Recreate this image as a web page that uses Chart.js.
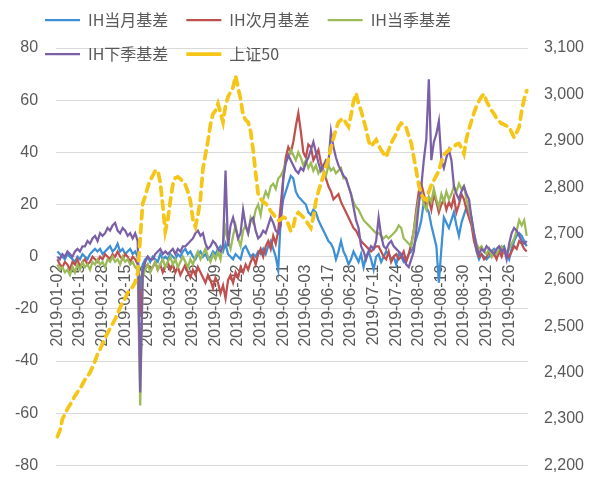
<!DOCTYPE html>
<html>
<head>
<meta charset="utf-8">
<script src="https://cdn.jsdelivr.net/npm/chart.js@4.4.0/dist/chart.umd.min.js"></script>
<style>
  html, body { margin: 0; padding: 0; background: #fff; overflow: hidden; width: 591px; height: 479px; }
  #wrap { width: 603px; height: 493px; margin-left: -3px; }
</style>
</head>
<body>
<div id="wrap"><canvas id="basis"></canvas></div>
<script>
// trading days of 2019, by month (Jan..Oct)
const monthDays = [
  [2,3,4,7,8,9,10,11,14,15,16,17,18,21,22,23,24,25,28,29,30,31],
  [1,11,12,13,14,15,18,19,20,21,22,25,26,27,28],
  [1,4,5,6,7,8,11,12,13,14,15,18,19,20,21,22,25,26,27,28,29],
  [1,2,3,4,8,9,10,11,12,15,16,17,18,19,22,23,24,25,26,29,30],
  [6,7,8,9,10,13,14,15,16,17,20,21,22,23,24,27,28,29,30,31],
  [3,4,5,6,10,11,12,13,14,17,18,19,20,21,24,25,26,27,28],
  [1,2,3,4,5,8,9,10,11,12,15,16,17,18,19,22,23,24,25,26,29,30,31],
  [1,2,5,6,7,8,9,12,13,14,15,16,19,20,21,22,23,26,27,28,29,30],
  [2,3,4,5,6,9,10,11,12,16,17,18,19,20,23,24,25,26,27,30],
  [8,9,10,11,14]
];
const pad = n => String(n).padStart(2, '0');
const dates = [];
monthDays.forEach((days, m) => days.forEach(d => dates.push('2019-' + pad(m + 1) + '-' + pad(d))));

const ihMonth = [
  2,1,0,-1,1,0,-1,-2,0,-1, 1,0,-1,1,2,3,2,3,1,2, 3,4,2,3,5,2,3,1,2,3, 1,2,0,
  -14,
  -3,-1,0,-2,0,-1,-2,1,-1,0, -1,1,0,-1,1,0,2,3,1,2, 0,-1,1,2,0,1,-1,0,2,1,
  3,4,2,5,1,0,-1,1,0,-1, 3,4,2,0,1,0,2,1,3,1, 4,6,3,0,-5,
  15,22,25,28,31,30,25,23,22,21, 20,17,16,18,17,14,12,10,8,6, 5,3,-1,2,
  6,2,0,-3,-1,2,0,-2,1,-4, 0,2,-1,-5,0,1,-2,0,2,1, -1,0,-3,1,0,-2,-1,
  1,2,4,7,10,14,21,19,17,12, 8,4,-10,3,15,13,11,14,17,12, 8,13,16,19,17,15,7,2,-1,1,
  0,-1,0,2,3,1,2,3,4,1, -1,3,6,8,9,8,6,4
];
const ihNext = [
  -1,-3,-4,-2,-3,-5,-2,-3,-1,-4, -2,-1,-3,-2,0,-1,-2,0,-1,1, 0,-1,1,0,2,0,-1,1,0,-2, 0,-1,-3,
  -22,
  -6,-4,-3,-5,-4,-2,-5,-3,-6,-4, -2,-5,-3,-6,-4,-7,-5,-3,-6,-8, -5,-7,-4,-6,-8,-10,-7,-9,-12,-8,
  -10,-14,-11,-16,-9,-7,-10,-6,-8,-4, -6,-3,-5,-2,0,-3,1,3,0,4, 6,3,8,5,10,
  20,30,38,42,40,44,50,55,
  48,40,38,43,42,37,39,41,36,33, 30,27,25,22,23,24,21,19,17,15, 13,11,10,8,6,5,4,3,2,3, 4,4,2,0,
  -1,2,-2,0,1,-1,0,2,-2,1, 5,10,18,25,28,24,20,22,18,24, 21,17,20,22,18,21,19,23,17,20,
  24,22,18,15,12,6,3,0,1,-1, 0,2,0,1,-1,2,0,3,1,0, 2,4,3,6,5,3,2
];
const ihQuarter = [
  -3,-5,-4,-6,-5,-7,-4,-6,-3,-5, -2,-4,-3,-5,-2,-3,-1,-3,-2,-4, -1,-2,0,-2,-1,-3,0,-2,-1,-3, -2,-4,-5,
  -57,
  -8,-5,-3,-6,-4,-2,-5,-3,-1,-4, -2,0,-3,-1,-4,-2,0,-2,-4,-1, -3,0,2,-1,1,3,0,-2,1,-1,
  2,-1,5,11,6,3,8,12,7,4, 10,12,9,15,13,18,20,16,22,25, 23,27,28,26,30,
  31,33,36,38,41,39,37,40,38,35, 37,34,36,33,35,32,34,33,31,35, 33,34,32,33,34,30,
  30,27,24,21,19,18,16,14,13,12, 11,10,9,9,8,7,8,7,8,9, 10,12,11,7,6,5,4,
  10,16,22,25,20,18,23,21,26,22, 19,24,21,25,22,24,27,25,28,26,
  27,22,18,14,9,5,3,4,2,1, 3,0,2,1,3,4,2,1,3,5, 7,10,14,12,14,8
];
const ihNextQuarter = [
  0,-1,1,0,2,1,0,2,3,2, 4,4,6,5,7,8,6,9,8,9, 11,10,12,13,10,9,11,10,8,9, 7,9,6,
  -52,
  -6,-2,0,-1,-1,1,2,3,1,2, 1,2,3,1,3,2,4,4,5,6, 7,9,10,8,9,5,3,4,6,5,
  3,2,4,33,4,12,15,11,7,9, 18,12,9,14,15,10,7,8,10,9, 12,15,13,10,9,
  12,30,36,39,37,35,33,32,34,33, 36,38,41,44,40,36,33,35,37,36,
  48,42,38,35,33,31,30,27,24,19, 14,11,4,2,-1,2,4,3,6,15, 8,4,3,5,6,4,3,2,1,-1, -3,-4,-1,
  2,10,20,27,37,45,68,37,44,47, 52,37,34,38,41,37,27,24,22,25,
  27,24,22,15,9,4,1,3,2,4, 3,2,1,3,4,2,3,-1,5,9, 11,10,8,6,5,6
];
const sz50 = [
  2262,2275,2300,2310,2322,2330,2340,2350,2358,2365,
  2375,2385,2392,2400,2412,2425,2440,2450,2462,2475,
  2485,2495,2505,2515,2528,2540,2552,2560,2572,2580,
  2585,2595,2615,2690,2765,2780,2800,2815,2825,2835,
  2836,2810,2760,2705,2730,2770,2805,2820,2822,2818,
  2812,2805,2790,2770,2730,2715,2740,2775,2840,2870,
  2900,2935,2958,2965,2980,2960,2940,2975,2995,3005,
  3015,3040,3015,2990,2955,2945,2940,2920,2880,2830,
  2785,2775,2768,2765,2758,2748,2742,2735,2728,2730,
  2735,2733,2720,2705,2715,2740,2745,2740,2735,2728,
  2720,2712,2735,2770,2790,2808,2825,2845,2860,2885,
  2905,2925,2940,2945,2948,2938,2930,2955,2985,3002,
  2980,2965,2945,2925,2900,2888,2895,2902,2890,2880,
  2872,2865,2880,2895,2905,2915,2930,2938,2935,2928,
  2910,2895,2865,2835,2805,2785,2775,2772,2790,2805,
  2815,2825,2835,2855,2870,2875,2880,2883,2888,2892,
  2894,2885,2872,2905,2925,2943,2960,2975,2986,2995,
  3001,2985,2975,2965,2958,2948,2942,2937,2935,2932,
  2930,2918,2907,2918,2930,2965,2990,3008
];
const leftTicks = { min: -80, max: 80, step: 20 };
const rightTicks = { min: 2200, max: 3100, step: 100 };

// legend sits over the top of the plot, two rows like the original
const legendSpot = {
  id: 'legendSpot',
  beforeInit(chart) {
    const fit = chart.legend.fit;
    chart.legend.fit = function () {
      this.maxWidth = Math.min(this.maxWidth, 480);
      fit.call(this);
      this.height = 48;
    };
  },
  afterLayout(chart) {
    const lg = chart.legend;
    lg.left = 30;
    lg.right = lg.left + 520;
    lg.top = -6;
    lg.bottom = 90;
  }
};

Chart.defaults.color = '#595959';
Chart.defaults.font.family = '"Liberation Sans", "Noto Sans CJK SC", sans-serif';

const line = (label, data, color, order) => ({
  label, data, borderColor: color, backgroundColor: color,
  borderWidth: 2.25, pointRadius: 0, tension: 0, yAxisID: 'y', order
});

new Chart(document.getElementById('basis'), {
  type: 'line',
  data: {
    labels: dates,
    datasets: [
      line('IH当月基差', ihMonth, '#3d8fd6', 5),
      line('IH次月基差', ihNext, '#c0504d', 4),
      line('IH当季基差', ihQuarter, '#9bbb59', 3),
      line('IH下季基差', ihNextQuarter, '#7b60a8', 2),
      {
        label: '上证50', data: sz50, borderColor: '#f5c518', backgroundColor: '#f5c518',
        borderWidth: 3.75, borderDash: [8, 6], borderCapStyle: 'round',
        pointRadius: 0, tension: 0, yAxisID: 'y1', order: 1
      }
    ]
  },
  options: {
    responsive: true,
    maintainAspectRatio: false,
    animation: false,
    locale: 'en-US',
    layout: { padding: 0 },
    plugins: {
      tooltip: { enabled: false },
      legend: {
        position: 'top',
        align: 'start',
        labels: {
          usePointStyle: true,
          pointStyle: 'line',
          pointStyleWidth: 35,
          padding: 18,
          color: '#595959',
          font: { size: 16, family: '"Noto Sans CJK SC"' },
          sort: (a, b) => a.datasetIndex - b.datasetIndex
        }
      }
    },
    scales: {
      x: {
        position: { y: 0 },
        offset: true,
        grid: { display: false, drawTicks: false },
        border: { display: false },
        ticks: {
          autoSkip: false, minRotation: 90, maxRotation: 90, padding: 8,
          font: { size: 16 },
          callback: (v, i) => (i % 9 === 0 ? dates[i] : '')
        }
      },
      y: {
        position: 'left',
        min: leftTicks.min, max: leftTicks.max,
        ticks: { stepSize: leftTicks.step, padding: 18, font: { size: 16 } },
        grid: { color: '#d9d9d9', drawTicks: false },
        border: { display: false }
      },
      y1: {
        position: 'right',
        min: rightTicks.min, max: rightTicks.max,
        ticks: { stepSize: rightTicks.step, padding: 16, font: { size: 16 } },
        grid: { drawOnChartArea: false, drawTicks: false },
        border: { display: false }
      }
    }
  },
  plugins: [legendSpot]
});
</script>
</body>
</html>
